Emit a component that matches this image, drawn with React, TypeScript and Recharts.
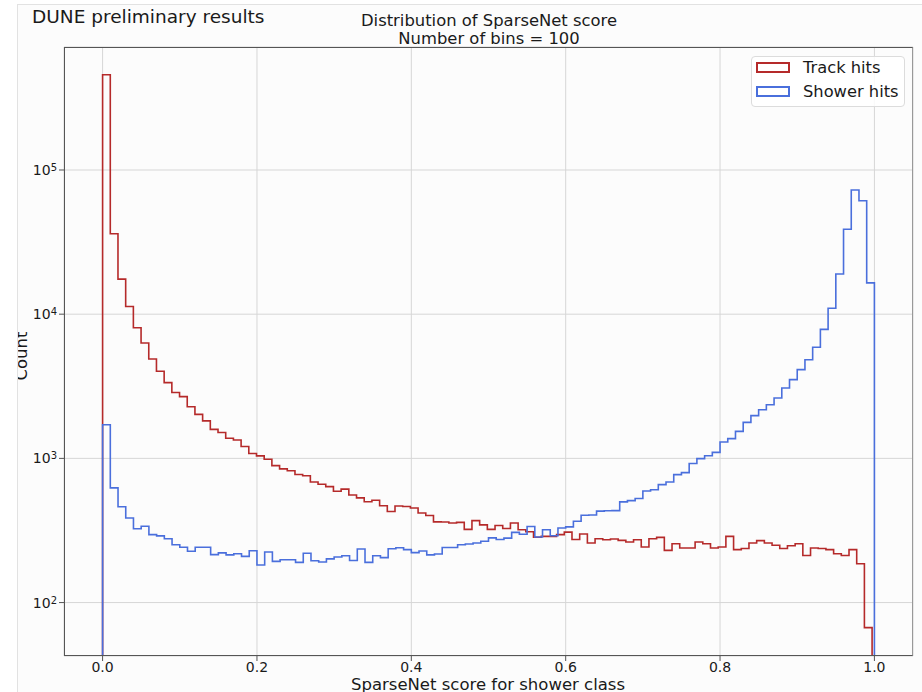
import React from 'react';
import { ComposedChart, Line, XAxis, YAxis, CartesianGrid, Legend } from 'recharts';

// Histogram counts (100 bins each)
const TRACK_COUNTS = [
  458000, 36100, 17500, 11300, 8050, 6310, 4890, 4020, 3350, 2860,
  2680, 2280, 2020, 1820, 1590, 1510, 1380, 1340, 1210, 1080,
  1040, 985, 890, 845, 820, 773, 758, 686, 662, 637,
  591, 612, 557, 532, 500, 512, 469, 428, 467, 464,
  453, 418, 402, 363, 362, 356, 360, 322, 370, 346,
  322, 342, 326, 356, 320, 310, 284, 288, 288, 296,
  308, 274, 299, 259, 277, 273, 276, 270, 263, 273,
  243, 277, 283, 230, 256, 239, 239, 263, 256, 239,
  243, 288, 233, 237, 259, 269, 259, 250, 237, 248,
  256, 212, 239, 237, 233, 218, 212, 233, 186, 67,
];

const SHOWER_COUNTS = [
  1710, 624, 462, 386, 325, 338, 296, 290, 277, 252,
  242, 227, 242, 242, 215, 221, 214, 218, 209, 229,
  182, 224, 193, 198, 198, 190, 220, 195, 191, 201,
  207, 211, 196, 235, 190, 211, 205, 236, 240, 233,
  222, 228, 214, 217, 241, 241, 252, 255, 259, 266,
  281, 274, 280, 307, 298, 337, 285, 320, 291, 329,
  335, 366, 403, 405, 431, 433, 434, 499, 509, 527,
  594, 606, 658, 686, 771, 796, 922, 996, 1044, 1101,
  1299, 1370, 1539, 1776, 1978, 2176, 2357, 2621, 3078, 3515,
  4124, 4835, 5900, 7850, 10990, 19000, 38800, 72600, 61200, 16500,
];

const TRACK_RANGE = [0, 0.997];
const SHOWER_RANGE = [0, 1.0];

const X_TICKS = [0, 0.2, 0.4, 0.6, 0.8, 1.0];
const Y_MAJOR_TICKS = [100, 1000, 10000, 100000];
const Y_MINOR_TICKS = [
  50, 60, 70, 80, 90,
  200, 300, 400, 500, 600, 700, 800, 900,
  2000, 3000, 4000, 5000, 6000, 7000, 8000, 9000,
  20000, 30000, 40000, 50000, 60000, 70000, 80000, 90000,
  200000, 300000, 400000, 500000, 600000, 700000,
];
const X_DOMAIN = [-0.05, 1.05];
const Y_DOMAIN = [42.6, 712900];
const BASELINE = 1;

const SERIES = [
  { name: 'Track hits', counts: TRACK_COUNTS, range: TRACK_RANGE, color: '#b52a2a' },
  { name: 'Shower hits', counts: SHOWER_COUNTS, range: SHOWER_RANGE, color: '#4a6fdc' },
];
const SERIES_ORDER = SERIES.map((s) => s.name);

const FONT = 'DejaVu Sans, Verdana, sans-serif';
const TEXT = '#1a1a1a';
const AXIS = '#555';

function stepPoints(counts: number[], range: number[]) {
  const [lo, hi] = range;
  const w = (hi - lo) / counts.length;
  const pts: { x: number; y: number }[] = [{ x: lo, y: BASELINE }];
  counts.forEach((c, i) => pts.push({ x: lo + i * w, y: c }));
  pts.push({ x: hi, y: counts[counts.length - 1] });
  pts.push({ x: hi, y: BASELINE });
  return pts;
}

const YTick = (props: any) => {
  const { x, y, payload } = props;
  const exp = Math.round(Math.log10(payload.value));
  return (
    <text x={x} y={y} dy="0.355em" textAnchor="end" fill={TEXT} fontSize={14} fontFamily={FONT}>
      10
      <tspan dy={-4} fontSize={10}>{exp}</tspan>
    </text>
  );
};

const LegendBox = (props: any) => {
  const payload = [...(props.payload || [])].sort(
    (a: any, b: any) => SERIES_ORDER.indexOf(a.value) - SERIES_ORDER.indexOf(b.value)
  );
  return (
    <div
      style={{
        position: 'relative',
        width: 154,
        height: 51,
        boxSizing: 'border-box',
        border: '1px solid #dcdcdc',
        borderRadius: 4,
        background: 'rgba(255,255,255,0.85)',
        fontFamily: FONT,
      }}
    >
      {payload.map((p: any, i: number) => (
        <React.Fragment key={p.value}>
          <div
            style={{
              position: 'absolute',
              left: 4,
              top: 5 + i * 24,
              width: 34,
              height: 11,
              boxSizing: 'border-box',
              border: `2px solid ${p.color}`,
            }}
          />
          <div
            style={{
              position: 'absolute',
              left: 51,
              top: 3 + i * 24,
              fontSize: 16.3,
              lineHeight: '16px',
              color: TEXT,
              whiteSpace: 'nowrap',
            }}
          >
            {p.value}
          </div>
        </React.Fragment>
      ))}
    </div>
  );
};

export default function App() {
  return (
    <div style={{ position: 'absolute', left: 0, top: 0, width: 922, height: 692, background: '#fff', overflow: 'hidden' }}>
      <div style={{ position: 'absolute', left: 17, top: 4, width: 905, height: 688, overflow: 'hidden', background: '#fcfcfc' }}>
        <div style={{ position: 'absolute', left: -17, top: -4, width: 922, height: 692 }}>
          <ComposedChart
            width={922}
            height={692}
            margin={{ top: 47, right: 9, bottom: 6, left: 0 }}
            style={{ fontFamily: FONT }}
          >
            <CartesianGrid stroke="#d6d6d6" strokeWidth={1} />
            <XAxis
              dataKey="x"
              type="number"
              domain={X_DOMAIN}
              allowDataOverflow
              ticks={X_TICKS}
              tickFormatter={(v: number) => v.toFixed(1)}
              height={30}
              axisLine={false}
              tickSize={5}
              tickMargin={1}
              tickLine={{ stroke: AXIS }}
              tick={{ fill: TEXT, fontSize: 14, fontFamily: FONT }}
            />
            <YAxis
              type="number"
              scale="log"
              domain={Y_DOMAIN}
              allowDataOverflow
              ticks={Y_MAJOR_TICKS}
              width={64}
              axisLine={false}
              tickSize={5}
              tickMargin={2}
              tickLine={{ stroke: AXIS }}
              tick={<YTick />}
            />
            <YAxis
              yAxisId="minor"
              type="number"
              scale="log"
              domain={Y_DOMAIN}
              allowDataOverflow
              ticks={Y_MINOR_TICKS}
              width={0}
              axisLine={false}
              tickSize={3}
              tickLine={{ stroke: AXIS }}
              tick={false}
            />
            {SERIES.map((s) => (
              <Line
                key={s.name}
                name={s.name}
                data={stepPoints(s.counts, s.range)}
                dataKey="y"
                type="stepAfter"
                stroke={s.color}
                strokeWidth={1.6}
                dot={false}
                activeDot={false}
                isAnimationActive={false}
              />
            ))}
            <Legend
              layout="horizontal"
              verticalAlign="middle"
              align="center"
              wrapperStyle={{ top: 56, left: 751, width: 154, height: 51 }}
              content={<LegendBox />}
            />
          </ComposedChart>
          <div
            style={{
              position: 'absolute',
              left: 64,
              top: 47,
              width: 849,
              height: 609,
              boxSizing: 'border-box',
              border: `1.5px solid ${AXIS}`,
              borderRight: `1.5px solid #999`,
              pointerEvents: 'none',
            }}
          />
          <svg
            width={922}
            height={692}
            style={{ position: 'absolute', left: 0, top: 0, pointerEvents: 'none' }}
            fontFamily={FONT}
          >
            <text x={32} y={22.7} fontSize={18.5} fill={TEXT}>DUNE preliminary results</text>
            <text x={489} y={26.2} fontSize={16.4} fill={TEXT} textAnchor="middle">Distribution of SparseNet score</text>
            <text x={489} y={43.5} fontSize={16.4} fill={TEXT} textAnchor="middle">Number of bins = 100</text>
            <text x={488} y={690} fontSize={16.5} fill={TEXT} textAnchor="middle">SparseNet score for shower class</text>
            <text x={27} y={356} fontSize={16.5} fill={TEXT} textAnchor="middle" transform="rotate(-90 27 356)">Count</text>
          </svg>
        </div>
      </div>
      <div style={{ position: 'absolute', left: 17, top: 4, width: 905, height: 1, background: '#e2e2e2' }} />
      <div style={{ position: 'absolute', left: 17, top: 4, width: 1, height: 688, background: '#e2e2e2' }} />
    </div>
  );
}
